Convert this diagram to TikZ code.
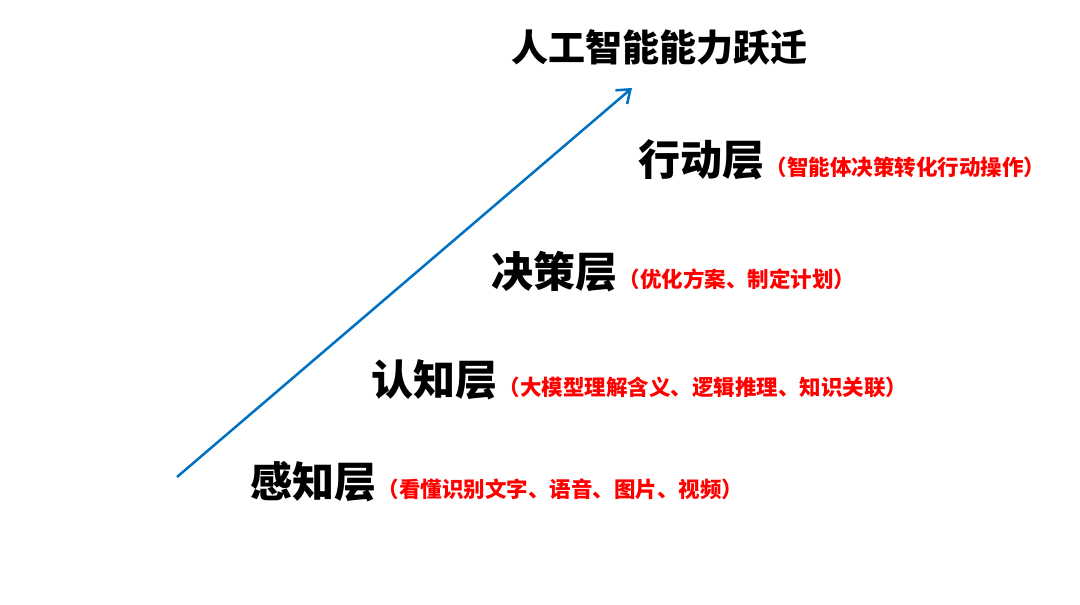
\documentclass[tikz,border=0pt]{standalone}
\usepackage{fontspec}
\newfontfamily\cjk{Noto Sans CJK SC}
\usetikzlibrary{arrows.meta}

\begin{document}
\begin{tikzpicture}[x=1pt, y=-1pt,
	every node/.style={inner sep=0pt, font=\cjk\bfseries},
	layer/.style={anchor=base west, font=\cjk\bfseries\fontsize{42}{42}\selectfont},
	note/.style={anchor=base west, text=red, font=\cjk\bfseries\fontsize{21.5}{21.5}\selectfont},
	>={Straight Barb[length=12pt, width=18pt, line width=2.5pt]}]
	\useasboundingbox[fill=white] (0,0) rectangle (1080,605);
	\node[anchor=base, font=\cjk\bfseries\fontsize{37}{37}\selectfont] (title) at (659,61) {人工智能能力跃迁};
	\node[layer] (act) at (638,175) {行动层};
	\node[note] (actnote) at ([xshift=1pt]act.base east) {（智能体决策转化行动操作）};
	\node[layer] (dec) at (491,287) {决策层};
	\node[note] (decnote) at ([xshift=1pt]dec.base east) {（优化方案、制定计划）};
	\node[layer] (cog) at (371,395) {认知层};
	\node[note] (cognote) at ([xshift=1pt]cog.base east) {（大模型理解含义、逻辑推理、知识关联）};
	\node[layer] (per) at (250,497) {感知层};
	\node[note] (pernote) at ([xshift=1pt]per.base east) {（看懂识别文字、语音、图片、视频）};
	\coordinate (start) at (177,477);
	\coordinate (tip) at (632,88);
	\draw[->, color={rgb,255:red,0;green,112;blue,192}, line width=2.5pt] (start) -- (tip);
\end{tikzpicture}
\end{document}
